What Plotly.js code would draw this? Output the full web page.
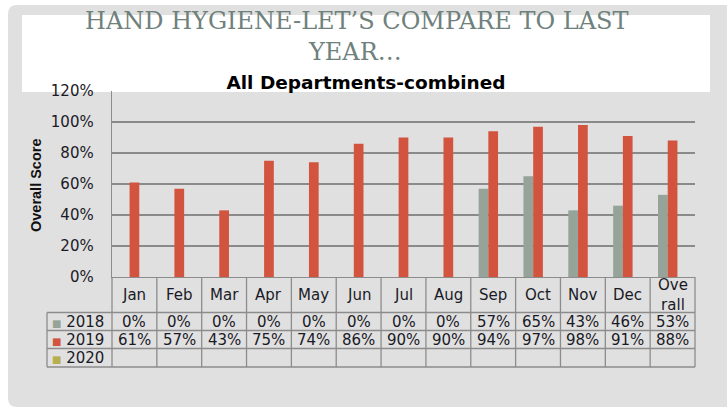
<!DOCTYPE html>
<html>
<head>
<meta charset="utf-8">
<script src="https://cdn.plot.ly/plotly-3.0.1.min.js"></script>
<style>html,body{margin:0;padding:0;background:#fff;}#chart{width:727px;height:419px;}</style>
</head>
<body>
<div id="chart"></div>
<script>
// ---- data ----
const categories = ['Jan','Feb','Mar','Apr','May','Jun','Jul','Aug','Sep','Oct','Nov','Dec','Overall'];
const headerLabels = ['Jan','Feb','Mar','Apr','May','Jun','Jul','Aug','Sep','Oct','Nov','Dec','Ove<br>rall'];
const seriesNames = ['2018','2019','2020'];
const values2018 = [0,0,0,0,0,0,0,0,0.57,0.65,0.43,0.46,0.53];
const values2019 = [0.61,0.57,0.43,0.75,0.74,0.86,0.90,0.90,0.94,0.97,0.98,0.91,0.88];
const values2020 = [null,null,null,null,null,null,null,null,null,null,null,null,null];
const seriesColors = ['#95a398','#d2543f','#b7ae50'];

// ---- geometry (pixels) ----
const W = 727, H = 419;
const L = 112, R = 695, T = 91, B = 277;
const px = p => (p - L) / (R - L);
const py = p => (B - p) / (B - T);
const rowLines = [312.5, 330.5, 348.5, 367];
const tableLeft = 47;
const lineColor = '#8c8c8c';
const textColor = '#1a1a26';
const tableFont = {family: 'DejaVu Sans', size: 15, color: textColor};

const allValues = [values2018, values2019, values2020];
const traces = allValues.map((vals, k) => ({
  type: 'bar', name: seriesNames[k], x: categories, y: vals,
  marker: {color: seriesColors[k], line: {width: 0}},
  hoverinfo: 'skip'
}));

const shapes = [];
// slide panel (rounded rect)
(function(){
  const x0 = 8, x1 = 740, y0 = 5, y1 = 407, r = 9;
  const P = (x, y) => px(x) + ',' + py(y);
  const path = 'M' + P(x0 + r, y0) + ' L' + P(x1, y0) + ' L' + P(x1, y1) + ' L' + P(x0 + r, y1) +
    ' Q' + P(x0, y1) + ' ' + P(x0, y1 - r) + ' L' + P(x0, y0 + r) + ' Q' + P(x0, y0) + ' ' + P(x0 + r, y0) + ' Z';
  shapes.push({type: 'path', xref: 'paper', yref: 'paper', path: path,
    fillcolor: '#e0e0e0', line: {width: 0}, layer: 'below'});
})();
// white title band
shapes.push({type: 'rect', xref: 'paper', yref: 'paper', x0: px(22), x1: px(710), y0: py(15), y1: py(92),
  fillcolor: '#ffffff', line: {width: 0}, layer: 'below'});

// table grid
const n = categories.length;
for (let i = 0; i <= n; i++) {
  const xp = i / n;
  shapes.push({type: 'line', xref: 'paper', yref: 'paper', x0: xp, x1: xp, y0: 0, y1: py(rowLines[3]),
    line: {color: lineColor, width: 1.3}});
}
shapes.push({type: 'line', xref: 'paper', yref: 'paper', x0: px(tableLeft), x1: px(tableLeft),
  y0: py(rowLines[0]), y1: py(rowLines[3]), line: {color: lineColor, width: 1.3}});
rowLines.forEach(yv => {
  shapes.push({type: 'line', xref: 'paper', yref: 'paper', x0: px(tableLeft), x1: 1, y0: py(yv), y1: py(yv),
    line: {color: lineColor, width: 1.3}});
});

const annotations = [];
// slide title
const titleFont = {family: 'DejaVu Serif', size: 24, color: '#6f817c'};
annotations.push({xref: 'paper', yref: 'paper', x: px(356), y: py(21), xanchor: 'center', yanchor: 'middle',
  text: 'HAND HYGIENE-LET’S COMPARE TO LAST', showarrow: false, font: titleFont});
annotations.push({xref: 'paper', yref: 'paper', x: px(355), y: py(52), xanchor: 'center', yanchor: 'middle',
  text: 'YEAR…', showarrow: false, font: titleFont});
// y axis title
annotations.push({xref: 'paper', yref: 'paper', x: px(36), y: py(185), xanchor: 'center', yanchor: 'middle',
  text: '<b>Overall Score</b>', textangle: -90, showarrow: false,
  font: {family: 'Liberation Sans', size: 14.5, color: '#111'}});
// header row
const headerMid = (B + rowLines[0]) / 2;
headerLabels.forEach((lab, i) => {
  annotations.push({xref: 'x', yref: 'paper', x: categories[i], y: py(headerMid), xanchor: 'center', yanchor: 'middle',
    text: lab, showarrow: false, font: tableFont});
});
// series rows
const fmt = v => (v === null || v === undefined) ? '' : Math.round(v * 100) + '%';
allValues.forEach((vals, k) => {
  const mid = (rowLines[k] + rowLines[k + 1]) / 2;
  annotations.push({xref: 'paper', yref: 'paper', x: px(50), y: py(mid + 0.5), xanchor: 'left', yanchor: 'middle',
    text: '<span style="color:' + seriesColors[k] + ';font-size:10px">■</span> ' + seriesNames[k],
    showarrow: false, font: tableFont});
  vals.forEach((v, i) => {
    const t = fmt(v);
    if (t) annotations.push({xref: 'x', yref: 'paper', x: categories[i], y: py(mid + 0.5), xanchor: 'center', yanchor: 'middle',
      text: t, showarrow: false, font: tableFont});
  });
});

const layout = {
  width: W, height: H,
  margin: {l: L, r: W - R, t: T, b: H - B, pad: 0},
  paper_bgcolor: '#ffffff', plot_bgcolor: 'rgba(0,0,0,0)',
  showlegend: false,
  barmode: 'group', bargap: 0.35, bargroupgap: 0,
  title: {text: '<b>All Departments-combined</b>', x: 366 / W, xref: 'container', xanchor: 'center',
    y: 1 - 83 / H, yref: 'container', yanchor: 'middle',
    font: {family: 'DejaVu Sans', size: 18.5, color: '#000'}},
  xaxis: {type: 'category', range: [-0.5, n - 0.5], showticklabels: false, ticks: '',
    showgrid: false, zeroline: false, showline: true, linecolor: lineColor, linewidth: 1.3, fixedrange: true},
  yaxis: {range: [0, 1.2], dtick: 0.2, tick0: 0, tickformat: '.0%', showgrid: true, gridcolor: '#8a8a8a', gridwidth: 1.2,
    zeroline: false, showline: true, linecolor: lineColor, linewidth: 1.3, ticks: 'outside', ticklen: 14,
    tickcolor: 'rgba(0,0,0,0)', tickfont: {family: 'DejaVu Sans', size: 15, color: textColor}, fixedrange: true},
  shapes: shapes,
  annotations: annotations
};

Plotly.newPlot('chart', traces, layout, {displayModeBar: false, staticPlot: true});
</script>
</body>
</html>
